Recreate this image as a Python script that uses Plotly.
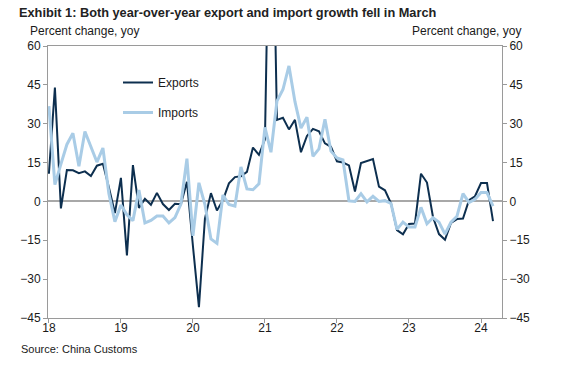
import plotly.graph_objects as go

# Monthly, Jan 2018 .. Mar 2024 (yoy % change)
months = list(range(75))
tick_positions = [0, 12, 24, 36, 48, 60, 72]
tick_labels = ["18", "19", "20", "21", "22", "23", "24"]

exports = [
    10.7, 44.0, -2.7, 12.1, 12.0, 10.9, 11.6, 9.8, 13.8, 14.5, 5.4, -4.5,      # 2018
    9.1, -20.8, 14.0, -2.5, 1.0, -1.3, 3.3, -1.0, -3.3, -0.9, -1.1, 7.6,        # 2019
    -17.2, -40.8, -6.6, 3.2, -3.5, 0.5, 7.0, 9.4, 9.7, 11.4, 20.8, 18.0,        # 2020
    24.0, 154.9, 31.5, 32.3, 27.8, 31.5, 19.0, 25.3, 28.0, 27.1, 22.4, 21.1,    # 2021
    15.5, 15.0, 13.9, 3.8, 14.8, 15.6, 16.4, 5.7, 4.3, -0.7, -11.1, -12.7,      # 2022
    -8.7, -8.5, 10.7, 7.3, -6.0, -12.6, -14.8, -8.3, -6.8, -6.6, 0.5, 2.0,      # 2023
    7.1, 7.1, -7.6,                                                             # 2024
]

imports = [
    36.8, 6.5, 14.4, 22.0, 26.3, 13.6, 27.0, 20.8, 15.2, 20.6, 3.0, -7.8,      # 2018
    -1.4, -5.2, -7.4, 4.4, -8.3, -7.3, -5.6, -5.6, -8.3, -6.2, -1.0, 16.5,      # 2019
    -13.3, 7.2, -1.2, -14.5, -16.2, 2.5, -1.2, -1.8, 13.3, 4.8, 4.5, 6.8,       # 2020
    28.6, 19.0, 38.7, 43.2, 52.3, 38.5, 28.3, 32.5, 17.4, 20.3, 31.7, 19.4,     # 2021
    16.8, 16.0, 0.2, 0.0, 3.0, -0.2, 2.0, 0.0, 0.3, -0.8, -10.8, -8.0,          # 2022
    -9.9, -9.9, -2.3, -8.6, -6.3, -8.0, -12.6, -8.0, -5.7, 3.0, -0.4, 0.8,      # 2023
    3.4, 3.4, -1.8,                                                             # 2024
]

y_ticks = [-45, -30, -15, 0, 15, 30, 45, 60]

FONT = "Liberation Sans, Arial, sans-serif"
DARK = "#0d2f4f"
LIGHT = "#a9cce6"
AXIS = "#9a9a9a"

fig = go.Figure()
fig.add_trace(go.Scatter(x=months, y=exports, mode="lines", name="Exports",
                         legendgroup="e", line=dict(color=DARK, width=2)))
fig.add_trace(go.Scatter(x=months, y=imports, mode="lines", name="Imports",
                         legendgroup="i", line=dict(color=LIGHT, width=3)))
# invisible trace to create the right-hand axis
fig.add_trace(go.Scatter(x=months, y=imports, mode="lines", yaxis="y2",
                         showlegend=False, hoverinfo="skip", opacity=0,
                         line=dict(width=0)))

fig.update_layout(
    width=565, height=367,
    margin=dict(l=48, r=63, t=46, b=49),
    paper_bgcolor="white", plot_bgcolor="white",
    font=dict(family=FONT, size=12, color="#1a1a1a"),
    title=dict(text="<b>Exhibit 1: Both year-over-year export and import growth fell in March</b>",
               x=19/565, xref="container", xanchor="left",
               y=1-13/367, yref="container", yanchor="middle",
               font=dict(family=FONT, size=12.75, color="#222222")),
    xaxis=dict(range=[-0.15, 75.5], tickmode="array", tickvals=tick_positions,
               ticktext=tick_labels, showgrid=False, zeroline=False,
               showline=True, linecolor=AXIS, linewidth=1, mirror=True,
               ticks="outside", ticklen=4, tickcolor=AXIS, ticklabelstandoff=-5,
               tickfont=dict(size=12, color="#1a1a1a")),
    yaxis=dict(range=[-45, 60], tickvals=y_ticks, showgrid=False,
               zeroline=True, zerolinecolor="#a8a8a8", zerolinewidth=1.5,
               showline=True, linecolor=AXIS, linewidth=1,
               ticks="outside", ticklen=4, tickcolor=AXIS,
               tickfont=dict(size=12, color="#1a1a1a")),
    yaxis2=dict(range=[-45, 60], tickvals=y_ticks, overlaying="y", side="right",
                showgrid=False, zeroline=False, showline=True, linecolor=AXIS,
                linewidth=1, ticks="outside", ticklen=4, tickcolor=AXIS,
                tickfont=dict(size=12, color="#1a1a1a")),
    legend=dict(x=(118-48)/454, y=(318-68)/272, xanchor="left", yanchor="top",
                bgcolor="rgba(0,0,0,0)", font=dict(size=12, color="#1a1a1a"),
                tracegroupgap=11, traceorder="grouped"),
    showlegend=True,
    annotations=[
        dict(text="Percent change, yoy", xref="paper", yref="paper",
             x=(28-48)/454, y=(318-31)/272, xanchor="left", yanchor="middle",
             showarrow=False, font=dict(size=12, color="#1a1a1a")),
        dict(text="Percent change, yoy", xref="paper", yref="paper",
             x=(523-48)/454, y=(318-31)/272, xanchor="right", yanchor="middle",
             showarrow=False, font=dict(size=12, color="#1a1a1a")),
        dict(text="Source: China Customs", xref="paper", yref="paper",
             x=(19-48)/454, y=(318-349)/272, xanchor="left", yanchor="middle",
             showarrow=False, font=dict(size=11, color="#1a1a1a")),
    ],
)

fig.write_html("out.html",
               config={"displayModeBar": False},
               post_script="document.body.style.margin='0';document.body.style.overflow='hidden';")
